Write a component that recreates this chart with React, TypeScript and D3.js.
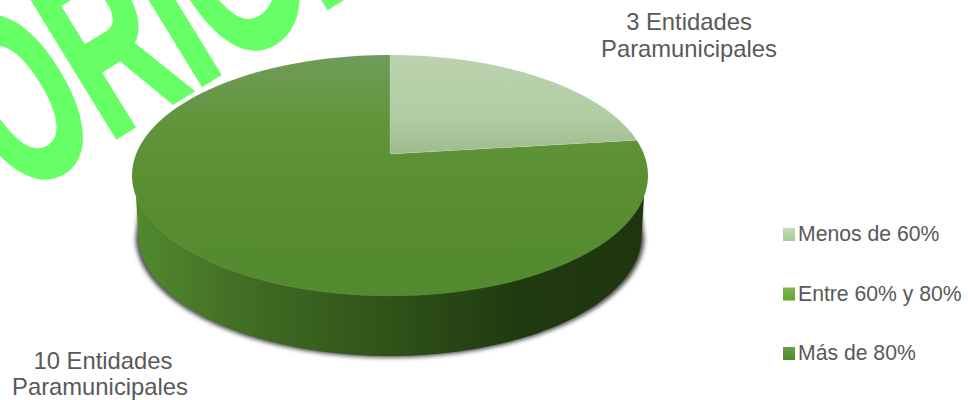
import React, { useMemo } from "react";
import * as d3 from "d3";

// Entity counts per compliance band
const bands = ["Menos de 60%", "Entre 60% y 80%", "Más de 80%"];
const entityCounts = [3, 10];
const sliceLabels = [
  ["3 Entidades", "Paramunicipales"],
  ["10 Entidades", "Paramunicipales"],
];
const stampText = "ORIGI";

const WIDTH = 968;
const HEIGHT = 400;
const FONT = "'Liberation Sans', Arial, sans-serif";

// Projective tilt of the unit disc onto the page
const apex = { x: 390, y: 154 };
const tilt = { a: 253.9, b: 116.7, k: 0.178 };
const wallDepth = 60;
const wallTaper = 0.975;
const wallJoinY = 196;
const shadowJoinY = 208;

function project(angle: number, radius = 1, drop = 0, taper = 1) {
  const u = Math.sin(angle) * radius;
  const v = Math.cos(angle) * radius;
  const w = 1 + tilt.k * v;
  return [
    apex.x + (tilt.a * u * taper) / w,
    apex.y - (tilt.b * v) / w + drop,
  ] as [number, number];
}

const line = d3.line();

function sliceArc(start: number, end: number) {
  const steps = d3.range(0, 121).map((i) => start + ((end - start) * i) / 120);
  return line([[apex.x, apex.y], ...steps.map((a) => project(a))])! + "Z";
}

// Side wall: rim joins the top face slightly below its widest row, then
// the tapered lower edge runs round the front
function wallPath(joinY: number) {
  const samples = d3.range(0, 720).map((i) => (i / 720) * 2 * Math.PI);
  const rightSide = samples.filter((a) => a < Math.PI);
  const joinAngle = rightSide[d3.leastIndex(rightSide, (a) => Math.abs(project(a)[1] - joinY))];
  const widest = rightSide[d3.greatestIndex(rightSide, (a) => project(a)[0])];
  const front = d3.range(0, 181).map((i) => widest + ((2 * Math.PI - 2 * widest) * i) / 180);
  const rim = front.map((a) => project(a, 1, wallDepth, wallTaper));
  return line([project(joinAngle), ...rim, project(2 * Math.PI - joinAngle), project(Math.PI)])! + "Z";
}

const legendY = d3.scalePoint<string>().domain(bands).range([234, 353]);
const swatchGradients = ["swatch0", "swatch1", "swatch2"];

export default function App() {
  const arcs = useMemo(
    () => d3.pie<number>().sort(null).startAngle(0).endAngle(2 * Math.PI)(entityCounts),
    [],
  );
  const wall = useMemo(() => wallPath(wallJoinY), []);
  const wallShade = useMemo(() => wallPath(shadowJoinY), []);

  return (
    <svg
      width={WIDTH}
      height={HEIGHT}
      viewBox={`0 0 ${WIDTH} ${HEIGHT}`}
      style={{ position: "fixed", left: 0, top: 0, background: "#fff" }}
    >
      <defs>
        <linearGradient id="lightFace" x1="0" y1="55" x2="0" y2="155" gradientUnits="userSpaceOnUse">
          <stop offset="0" stopColor="#bad2ae" />
          <stop offset="0.6" stopColor="#b1cda3" />
          <stop offset="1" stopColor="#9fba8e" />
        </linearGradient>
        <linearGradient id="mainFace" x1="0" y1="55" x2="0" y2="296" gradientUnits="userSpaceOnUse">
          <stop offset="0" stopColor="#709c5a" />
          <stop offset="0.3" stopColor="#5f9439" />
          <stop offset="0.5" stopColor="#5a8f33" />
          <stop offset="1" stopColor="#53892f" />
        </linearGradient>
        <linearGradient id="wallFill" x1="131" y1="0" x2="648" y2="0" gradientUnits="userSpaceOnUse">
          <stop offset="0" stopColor="#518b2f" />
          <stop offset="0.2" stopColor="#436f25" />
          <stop offset="0.5" stopColor="#2f5219" />
          <stop offset="0.75" stopColor="#203a10" />
          <stop offset="1" stopColor="#1f350f" />
        </linearGradient>
        <linearGradient id="swatch0" x1="0" y1="0" x2="0" y2="1">
          <stop offset="0" stopColor="#c4dcb8" />
          <stop offset="1" stopColor="#a9c99a" />
        </linearGradient>
        <linearGradient id="swatch1" x1="0" y1="0" x2="0" y2="1">
          <stop offset="0" stopColor="#7cbc4a" />
          <stop offset="1" stopColor="#62a332" />
        </linearGradient>
        <linearGradient id="swatch2" x1="0" y1="0" x2="0" y2="1">
          <stop offset="0" stopColor="#69a045" />
          <stop offset="1" stopColor="#4f8a2e" />
        </linearGradient>
        <filter id="wallShadow" x="-5%" y="-5%" width="110%" height="115%">
          <feGaussianBlur stdDeviation="2" />
        </filter>
      </defs>

      {/* Stamp lettering across the upper left */}
      <g transform="translate(16,198) rotate(-31.5) scale(1.18,2.1)">
        <text
          fontFamily={FONT}
          fontWeight="bold"
          fontSize={118}
          fill="#66ff66"
          stroke="#66ff66"
          strokeWidth={2.5}
          strokeLinejoin="miter"
        >
          {stampText}
        </text>
      </g>

      {/* Cylinder wall with its soft shadow */}
      <path
        d={wallShade}
        fill="#4a4a4a"
        filter="url(#wallShadow)"
        transform={`translate(${apex.x},1.5) scale(1.011,1) translate(${-apex.x},0)`}
      />
      <path d={wall} fill="url(#wallFill)" />

      {/* Top faces, one per slice */}
      <path
        d={sliceArc(arcs[1].startAngle, arcs[1].endAngle)}
        fill="url(#mainFace)"
        stroke="#ffffff"
        strokeOpacity={0.12}
        strokeWidth={0.6}
      />
      <path
        d={sliceArc(arcs[0].startAngle, arcs[0].endAngle)}
        fill="url(#lightFace)"
        stroke="#ffffff"
        strokeOpacity={0.2}
        strokeWidth={0.6}
      />

      {/* Slice labels */}
      <g fontFamily={FONT} fontSize={23.8} fill="#595959" textAnchor="middle">
        <text x={689} y={30}>
          <tspan x={689}>{sliceLabels[0][0]}</tspan>
          <tspan x={689} dy={27}>{sliceLabels[0][1]}</tspan>
        </text>
        <text x={100} y={369}>
          <tspan x={103}>{sliceLabels[1][0]}</tspan>
          <tspan x={100} dy={26}>{sliceLabels[1][1]}</tspan>
        </text>
      </g>

      {/* Legend */}
      <g fontFamily={FONT} fontSize={21.2} fill="#595959">
        {bands.map((band, i) => (
          <g key={band} transform={`translate(0,${legendY(band)})`}>
            <rect x={783} y={-6} width={12} height={13} fill={`url(#${swatchGradients[i]})`} />
            <text x={798} y={7}>{band}</text>
          </g>
        ))}
      </g>
    </svg>
  );
}
